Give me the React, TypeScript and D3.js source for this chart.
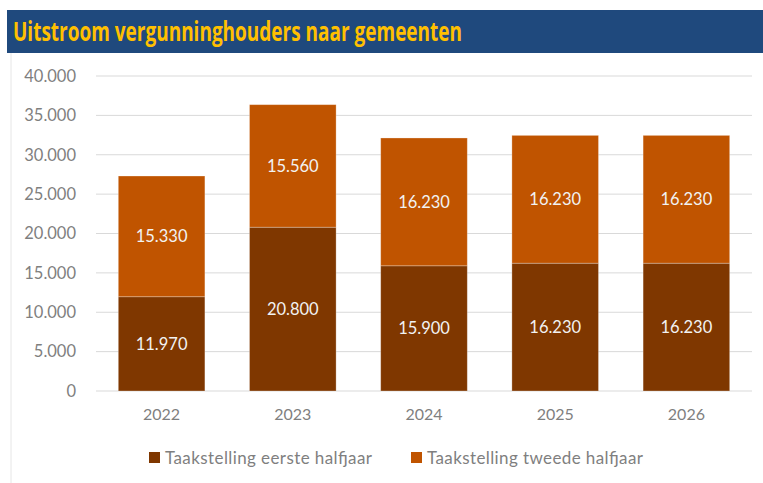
import React from "react";
import * as d3 from "d3";

const years = ["2022", "2023", "2024", "2025", "2026"];
const firstHalf = [11970, 20800, 15900, 16230, 16230];
const secondHalf = [15330, 15560, 16230, 16230, 16230];
const yTicks = [0, 5000, 10000, 15000, 20000, 25000, 30000, 35000, 40000];
const seriesNames = ["Taakstelling eerste halfjaar", "Taakstelling tweede halfjaar"];
const colors = ["#7F3700", "#C05400"];

const W = 763;
const H = 483;
const fmt = (v: number) => d3.format(",")(v).replace(/,/g, ".");

export default function App() {
  const x = d3.scaleBand<string>().domain(years).range([96, 752]).paddingInner(0.34).paddingOuter(0.17);
  const y = d3.scaleLinear().domain([0, 40000]).range([391, 76]);
  const data = years.map((yr, i) => ({ year: yr, a: firstHalf[i], b: secondHalf[i] }));
  const stack = d3.stack<any>().keys(["a", "b"])(data);
  const font = "Lato, 'Open Sans', sans-serif";

  return (
    <svg width={W} height={H} style={{ position: "absolute", left: 0, top: 0, background: "#fff" }}>
      <rect x={7} y={10} width={W - 7} height={43} fill="#1F497D" />
      <text x={13} y={41} fill="#FFC000" fontFamily="'Open Sans', sans-serif" fontWeight="bold" fontSize={26}
        textLength={449} lengthAdjust="spacingAndGlyphs">Uitstroom vergunninghouders naar gemeenten</text>
      <line x1={11} x2={11} y1={53} y2={H} stroke="#E6E6E6" />
      {yTicks.map((t) => (
        <g key={t}>
          <line x1={96} x2={752} y1={y(t)} y2={y(t)} stroke="#D9D9D9" strokeWidth={1} />
          <text x={76} y={y(t)} dy="0.35em" textAnchor="end" fill="#7F7F7F" fontFamily={font} fontSize={16.5}>{fmt(t)}</text>
        </g>
      ))}
      {stack.map((s, si) => (
        <g key={si}>
          {s.map((d, i) => {
            const x0 = x(years[i])!;
            const y0 = y(d[1]);
            const h = y(d[0]) - y(d[1]);
            return (
              <g key={i}>
                <rect x={x0} y={y0} width={x.bandwidth()} height={h} fill={colors[si]} stroke="#ffffff" strokeOpacity={0.35} strokeWidth={0.8} />
                <text x={x0 + x.bandwidth() / 2} y={y0 + h / 2} dy="0.35em" textAnchor="middle" fill="#F2F2F2"
                  fontFamily={font} fontSize={16.5}>{fmt(d[1] - d[0])}</text>
              </g>
            );
          })}
        </g>
      ))}
      {years.map((yr) => (
        <text key={yr} x={x(yr)! + x.bandwidth() / 2} y={414} dy="0.35em" textAnchor="middle" fill="#7F7F7F"
          fontFamily={font} fontSize={16}>{yr}</text>
      ))}
      {seriesNames.map((n, i) => {
        const lx = i === 0 ? 149 : 411;
        return (
          <g key={n}>
            <rect x={lx} y={452} width={11} height={11} fill={colors[i]} />
            <text x={lx + 16} y={458} dy="0.35em" fill="#7F7F7F" fontFamily={font} fontSize={17}
              textLength={i === 0 ? 207 : 216} lengthAdjust="spacing">{n}</text>
          </g>
        );
      })}
    </svg>
  );
}
